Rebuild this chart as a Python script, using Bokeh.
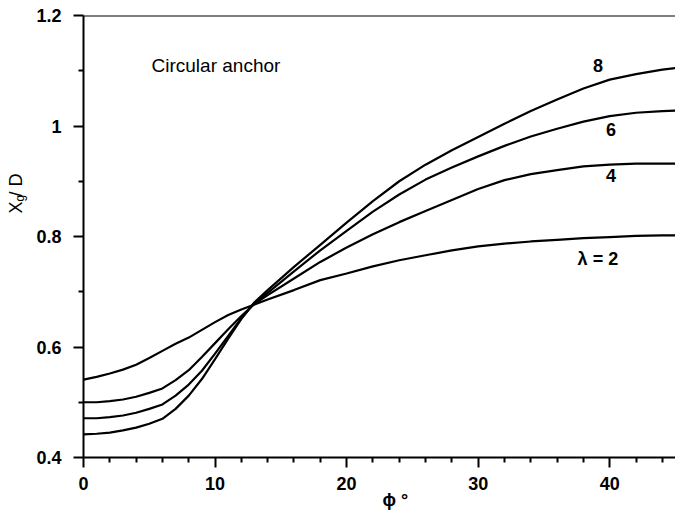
from bokeh.plotting import figure
from bokeh.models import Range1d, FixedTicker, CustomJSTickFormatter, Label, Span, Title
from bokeh.embed import file_html
from bokeh.resources import INLINE

# ---- data ----
phi = [0, 1, 2, 3, 4, 5, 6, 7, 8, 9, 10, 11, 12, 13, 14, 16, 18, 20, 22, 24, 26, 28,
       30, 32, 34, 36, 38, 40, 42, 44, 45]
lam8 = [0.442, 0.443, 0.445, 0.449, 0.454, 0.461, 0.470, 0.488, 0.512, 0.542, 0.578, 0.615,
        0.651, 0.681, 0.703, 0.745, 0.785, 0.825, 0.864, 0.900, 0.930, 0.956,
        0.980, 1.004, 1.027, 1.048, 1.068, 1.084, 1.094, 1.102, 1.105]
lam6 = [0.471, 0.471, 0.473, 0.476, 0.481, 0.488, 0.496, 0.512, 0.532, 0.557, 0.588, 0.620,
        0.652, 0.680, 0.698, 0.737, 0.775, 0.810, 0.845, 0.876, 0.903, 0.925,
        0.945, 0.964, 0.981, 0.995, 1.008, 1.018, 1.024, 1.027, 1.028]
lam4 = [0.500, 0.500, 0.502, 0.505, 0.510, 0.517, 0.525, 0.540, 0.558, 0.582, 0.607, 0.632,
        0.656, 0.678, 0.694, 0.724, 0.754, 0.780, 0.804, 0.826, 0.846, 0.866,
        0.886, 0.902, 0.913, 0.920, 0.927, 0.930, 0.932, 0.932, 0.932]
lam2 = [0.541, 0.546, 0.552, 0.559, 0.568, 0.580, 0.593, 0.606, 0.617, 0.631, 0.645, 0.658,
        0.668, 0.677, 0.686, 0.703, 0.721, 0.733, 0.746, 0.757, 0.766, 0.775,
        0.782, 0.787, 0.791, 0.794, 0.797, 0.799, 0.801, 0.802, 0.802]

curve_labels = ["8", "6", "4", "λ = 2"]
curve_label_x = [39.1, 40.1, 40.1, 39.1]
curve_label_y = [1.1095, 0.994, 0.910, 0.760]

xticks = [0, 10, 20, 30, 40]
xminor = [2, 4, 6, 8, 12, 14, 16, 18, 22, 24, 26, 28, 32, 34, 36, 38, 42, 44]
yticks = [0.4, 0.6, 0.8, 1.0, 1.2]
ytick_labels = ["0.4", "0.6", "0.8", "1", "1.2"]
yminor = [0.5, 0.7, 0.9, 1.1]

FONT = "Liberation Sans"

p = figure(width=675, height=512, x_range=Range1d(0, 45), y_range=Range1d(0.4, 1.2),
           output_backend="svg", toolbar_location=None,
           min_border_left=83, min_border_right=0, min_border_top=15, min_border_bottom=55)
p.outline_line_color = None
p.grid.visible = False
p.background_fill_color = "white"

xa = p.xaxis[0]
xa.ticker = FixedTicker(ticks=xticks, minor_ticks=xminor)
ya = p.yaxis[0]
ya.ticker = FixedTicker(ticks=yticks, minor_ticks=yminor)
ya.formatter = CustomJSTickFormatter(args=dict(t=yticks, l=ytick_labels), code="""
let best = 0;
for (let i = 0; i < t.length; i++) { if (Math.abs(t[i]-tick) < Math.abs(t[best]-tick)) best = i; }
return l[best];
""")

for ax in (xa, ya):
    ax.axis_line_width = 2
    ax.axis_line_color = "black"
    ax.major_tick_in = 0
    ax.major_tick_out = 10
    ax.minor_tick_in = 0
    ax.minor_tick_out = 5
    ax.major_tick_line_width = 2
    ax.minor_tick_line_width = 2
    ax.major_tick_line_color = "black"
    ax.minor_tick_line_color = "black"
    ax.major_label_text_font = FONT
    ax.major_label_text_font_style = "bold"
    ax.major_label_text_font_size = "18px"
    ax.major_label_text_color = "black"
xa.major_label_standoff = 9
ya.major_label_standoff = 12

p.add_layout(Span(location=1.2, dimension="width", line_color="black", line_width=2))

series = [lam8, lam6, lam4, lam2]
for ys in series:
    p.line(phi, ys, line_color="black", line_width=2.2)

for t, lx, ly in zip(curve_labels, curve_label_x, curve_label_y):
    p.add_layout(Label(x=lx, y=ly, text=t, text_align="center", text_baseline="middle",
                       text_font=FONT, text_font_style="bold", text_font_size="18px",
                       text_color="black"))

p.add_layout(Label(x=5.17, y=1.1095, text="Circular anchor", text_align="left",
                   text_baseline="alphabetic", text_font=FONT, text_font_size="19px",
                   text_color="black"))


def mk_title(text, size, offset, standoff, bold=False):
    return Title(text=text, align="left", offset=offset, standoff=standoff,
                 vertical_align="bottom", text_font=FONT, text_font_size=size,
                 text_color="black", text_font_style="bold" if bold else "normal")


# y-axis title: X_g / D  (subscript in its own column, nearer the axis)
p.add_layout(mk_title("g", "12px", 256, 14), "left")
p.add_layout(mk_title("X  / D", "18px", 244, -45), "left")

# x-axis title
p.add_layout(mk_title("ϕ °", "18px", 299, -9, bold=True), "below")

open("out.html", "w").write(file_html(p, INLINE))
